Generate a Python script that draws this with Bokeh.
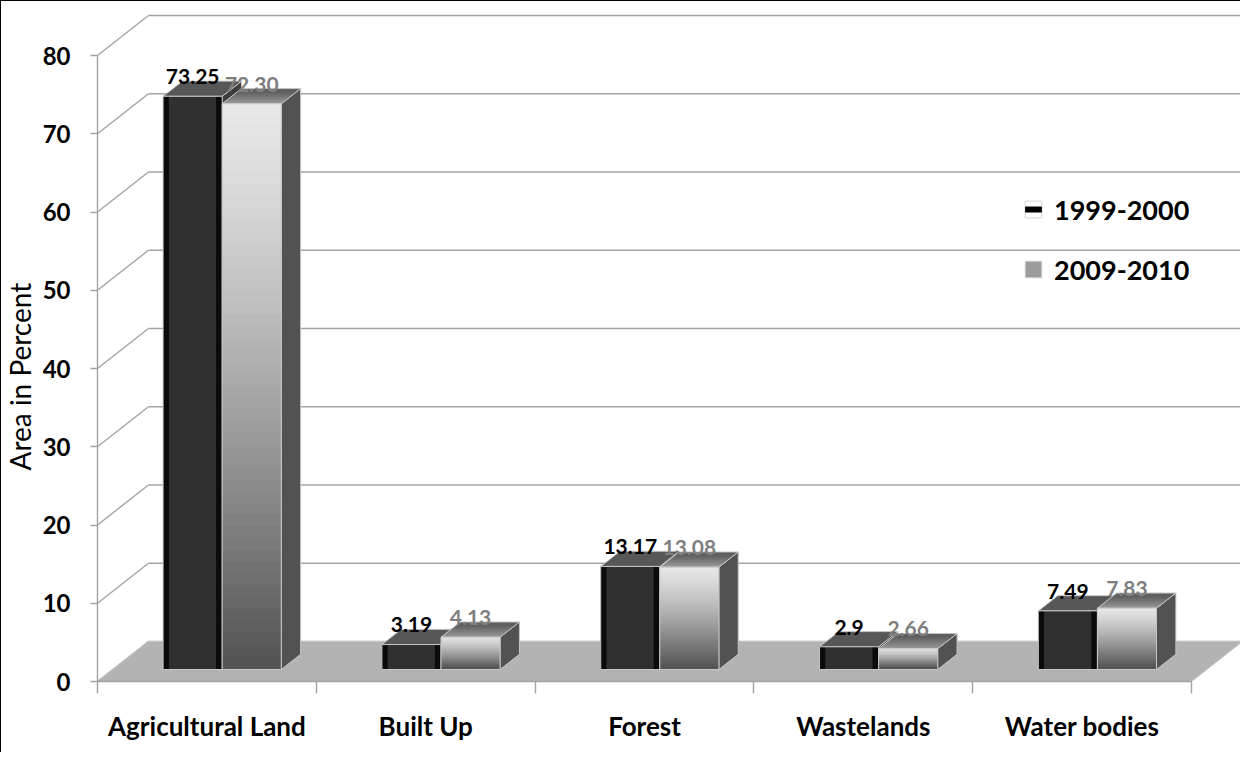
import numpy as np
from bokeh.plotting import figure
from bokeh.models import Range1d, FixedTicker, Legend, LegendItem, Title
from bokeh.core.properties import value
from bokeh.embed import file_html
from bokeh.resources import INLINE

# ---------------- data ----------------
categories = ["Agricultural Land", "Built Up", "Forest", "Wastelands", "Water bodies"]
series_names = ["1999-2000", "2009-2010"]
values_1999 = [73.25, 3.19, 13.17, 2.9, 7.49]
values_2009 = [72.30, 4.13, 13.08, 2.66, 7.83]
labels_1999 = ["73.25", "3.19", "13.17", "2.9", "7.49"]
labels_2009 = ["72.30", "4.13", "13.08", "2.66", "7.83"]
y_ticks = [0, 10, 20, 30, 40, 50, 60, 70, 80]
y_title = "Area in Percent"

# ---------------- 3-D geometry (in axis units) ----------------
PX_X = 219.0      # pixels per category slot
PX_Y = 7.825      # pixels per percent
WDX = 51.0 / PX_X  # depth offset of the back wall, x units
WDY = 40.0 / PX_Y  # depth offset of the back wall, y units
TF, TB = 0.30, 0.68  # bar front / back depth fraction
BAR_W = 0.27
NCAT = len(categories)
YMAX = max(y_ticks)


def proj(c, v, t):
    return c + t * WDX, v + t * WDY


W, H = 1240, 752
FRAME_L, FRAME_T, FRAME_B = 95, 6, 680
x_end = (W - FRAME_L) / PX_X
y_end = (FRAME_B - FRAME_T) / PX_Y

p = figure(width=W, height=H, output_backend="svg", toolbar_location=None,
           x_range=Range1d(0, x_end), y_range=Range1d(0, y_end),
           min_border_left=FRAME_L, min_border_top=FRAME_T,
           min_border_bottom=H - FRAME_B, min_border_right=0,
           background_fill_color="white", border_fill_color="white")
p.outline_line_color = None
p.xgrid.visible = False
p.ygrid.visible = False
p.styles = {"border-left": "1px solid black", "border-top": "1px solid black"}

GRID = "#a3a3a3"

# back wall gridlines and side wall diagonals
xs_back, ys_back, xs_side, ys_side = [], [], [], []
for v in y_ticks:
    a = proj(0, v, 1)
    b = proj(NCAT, v, 1)
    xs_back.append([a[0], b[0]]); ys_back.append([a[1], b[1]])
    f = proj(0, v, 0)
    xs_side.append([f[0], a[0]]); ys_side.append([f[1], a[1]])
p.multi_line(xs_back, ys_back, line_color=GRID, line_width=1.4)
p.multi_line(xs_side, ys_side, line_color=GRID, line_width=1.4)

# floor
fl = [proj(0, 0, 0), proj(0, 0, 1), proj(NCAT, 0, 1), proj(NCAT, 0, 0)]
p.patch([q[0] for q in fl], [q[1] for q in fl], fill_color="#b3b3b3",
        line_color="#c4c4c4", line_width=1)


def gray(g):
    g = int(round(max(0, min(255, g))))
    return "#%02x%02x%02x" % (g, g, g)


def bar_faces(c0, c1, val):
    side = [proj(c1, 0, TF), proj(c1, val, TF), proj(c1, val, TB), proj(c1, 0, TB)]
    top = [proj(c0, val, TF), proj(c1, val, TF), proj(c1, val, TB), proj(c0, val, TB)]
    return side, top


EDGE = "#c6c6c6"
OV_Y = 0.2    # slice overlap (value units) to hide seams
OV_T = 0.06   # slice overlap (depth fraction)

for s, vals in enumerate([values_1999, values_2009]):
    side_x, side_y, top_x, top_y, top_c = [], [], [], [], []
    fq = dict(left=[], right=[], bottom=[], top=[], color=[])
    ol = dict(left=[], right=[], bottom=[], top=[])
    for i, val in enumerate(vals):
        c0 = i + 0.5 - BAR_W + s * BAR_W
        c1 = c0 + BAR_W
        side, top = bar_faces(c0, c1, val)
        side_x.append([q[0] for q in side]); side_y.append([q[1] for q in side])
        fx0, fy0 = proj(c0, 0, TF)
        fx1, fy1 = proj(c1, val, TF)
        ol["left"].append(fx0); ol["right"].append(fx1)
        ol["bottom"].append(fy0); ol["top"].append(fy1)
        if s == 0:
            top_x.append([q[0] for q in top]); top_y.append([q[1] for q in top])
            top_c.append("#575757")
            sw_l, sw_r = 0.026, 0.028
            for l, r, col in [(fx0, fx1, "#303030"), (fx0, fx0 + sw_l, "#0b0b0b"),
                              (fx1 - sw_r, fx1, "#0b0b0b")]:
                fq["left"].append(l); fq["right"].append(r)
                fq["bottom"].append(fy0); fq["top"].append(fy1); fq["color"].append(col)
        else:
            n_t = 8
            for k in range(n_t):
                ta = TF + (TB - TF) * k / n_t - (OV_T if k > 0 else 0)
                tb = TF + (TB - TF) * (k + 1) / n_t
                poly = [proj(c0, val, ta), proj(c1, val, ta), proj(c1, val, tb), proj(c0, val, tb)]
                top_x.append([q[0] for q in poly]); top_y.append([q[1] for q in poly])
                top_c.append(gray(165 - 75 * (k + 0.5) / n_t))
            n = 48
            for k in range(n):
                ya = fy1 - (fy1 - fy0) * k / n
                yb = fy1 - (fy1 - fy0) * (k + 1) / n
                f = (k + 0.5) / n
                g = 232 - 150 * f ** 1.25
                fq["left"].append(fx0); fq["right"].append(fx1)
                fq["bottom"].append(yb)
                fq["top"].append(min(fy1, ya + (OV_Y if k > 0 else 0)))
                fq["color"].append(gray(g))
    side_col = "#3d3d3d" if s == 0 else "#525252"
    p.patches(side_x, side_y, fill_color=side_col, line_color=EDGE, line_width=1)
    p.patches(top_x, top_y, fill_color=top_c, line_color=None)
    tox, toy = [], []
    for i, val in enumerate(vals):
        c0 = i + 0.5 - BAR_W + s * BAR_W
        _, top = bar_faces(c0, c0 + BAR_W, val)
        tox.append([q[0] for q in top]); toy.append([q[1] for q in top])
    p.patches(tox, toy, fill_color=None, line_color=EDGE, line_width=1)
    p.quad(left="left", right="right", bottom="bottom", top="top", source=fq,
           fill_color="color", line_color=None)
    p.quad(left="left", right="right", bottom="bottom", top="top", source=ol,
           fill_color=None, line_color=EDGE, line_width=1)

# data labels
for s, (vals, labs, col) in enumerate([(values_1999, labels_1999, "#000000"),
                                       (values_2009, labels_2009, "#7f7f7f")]):
    lx, ly = [], []
    for i, val in enumerate(vals):
        c0 = i + 0.5 - BAR_W + s * BAR_W
        x, _ = proj(c0 + BAR_W / 2, val, TF)
        _, y = proj(c0, val, TB)
        lx.append(x); ly.append(y)
    p.text(lx, ly, text=labs, text_font=value("Lato"), text_font_style="bold",
           text_font_size="21px", text_align="center", text_baseline="bottom",
           text_color=col, y_offset=3)

# ---------------- axes ----------------
ya = p.yaxis[0]
ya.ticker = FixedTicker(ticks=y_ticks, minor_ticks=[])
ya.bounds = (0, YMAX)
ya.axis_line_color = GRID
ya.axis_line_width = 1.4
ya.major_tick_line_color = GRID
ya.major_tick_line_width = 1.4
ya.major_tick_out = 7
ya.major_tick_in = 0
ya.major_label_standoff = 20
ya.major_label_text_font = "Lato"
ya.major_label_text_font_style = "bold"
ya.major_label_text_font_size = "24px"
ya.major_label_text_color = "#000000"

# y-axis title as a side title (lets it sit lower than the frame centre, as in the original)
p.add_layout(Title(text=y_title, align="left", offset=211, vertical_align="top",
                   standoff=2, text_font="Lato", text_font_size="28px",
                   text_font_style="normal", text_color="#000000"), "left")

xa = p.xaxis[0]
centers = [i + 0.5 for i in range(NCAT)]
xa.ticker = FixedTicker(ticks=centers, minor_ticks=list(range(NCAT + 1)))
xa.major_label_overrides = {c: cat for c, cat in zip(centers, categories)}
xa.bounds = (0, NCAT)
xa.axis_line_color = GRID
xa.axis_line_width = 1.4
xa.major_tick_line_color = None
xa.major_tick_out = 0
xa.major_tick_in = 0
xa.minor_tick_line_color = GRID
xa.minor_tick_line_width = 1.4
xa.minor_tick_out = 12
xa.minor_tick_in = 0
xa.major_label_standoff = 16
xa.major_label_text_font = "Lato"
xa.major_label_text_font_style = "bold"
xa.major_label_text_font_size = "26px"
xa.major_label_text_color = "#000000"

# ---------------- legend ----------------
nan = [float("nan")]
l1a = p.scatter(nan, nan, marker="square", fill_color="#ffffff", line_color="#d6d6d6")
l1b = p.scatter(nan, nan, marker="dash", line_color="#000000", line_width=6)
l2a = p.scatter(nan, nan, marker="square", fill_color="#9c9c9c", line_color="#dedede")
leg = Legend(items=[LegendItem(label=series_names[0], renderers=[l1a, l1b]),
                    LegendItem(label=series_names[1], renderers=[l2a])],
             location=(915, 391), orientation="vertical",
             background_fill_alpha=0, border_line_color=None,
             padding=0, margin=0, spacing=18,
             glyph_width=42, glyph_height=42, label_standoff=0,
             label_text_font="Lato", label_text_font_style="bold",
             label_text_font_size="27px", label_text_color="#000000")
p.add_layout(leg)

open("out.html", "w").write(file_html(p, INLINE))
